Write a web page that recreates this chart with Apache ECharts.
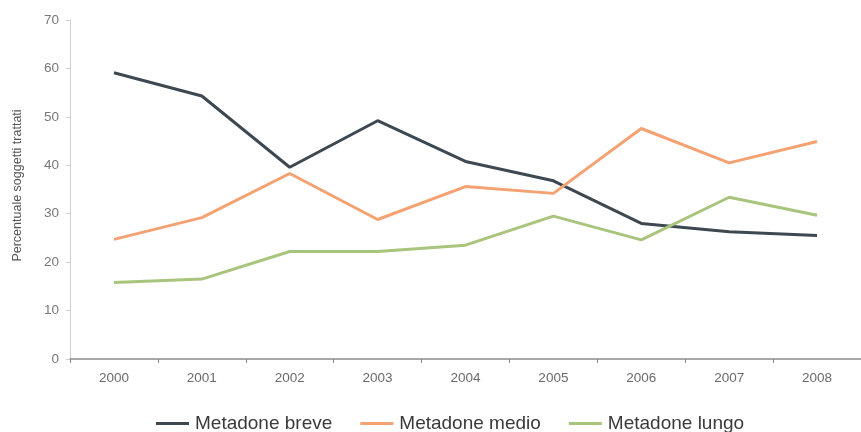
<!DOCTYPE html>
<html><head><meta charset="utf-8">
<script src="https://cdn.jsdelivr.net/npm/echarts@6/dist/echarts.min.js"></script>
<style>html,body{margin:0;padding:0;background:#fff}#c{width:861px;height:432px}</style>
</head><body><div id="c"></div>
<script>
const years = ['2000','2001','2002','2003','2004','2005','2006','2007','2008'];
const breve = [59.1, 54.3, 39.6, 49.2, 40.8, 36.8, 28.0, 26.3, 25.5];
const medio = [24.7, 29.2, 38.3, 28.8, 35.6, 34.2, 47.6, 40.5, 44.9];
const lungo = [15.8, 16.5, 22.2, 22.2, 23.5, 29.5, 24.6, 33.4, 29.7];
const yTitle = 'Percentuale soggetti trattati';

const chart = echarts.init(document.getElementById('c'), null, {renderer:'canvas'});
const font = 'Liberation Sans, Arial, sans-serif';
function s(name, data, color){
  return {name, type:'line', data, symbol:'none', smooth:false,
    lineStyle:{color, width:3}, itemStyle:{color}};
}
chart.setOption({
  animation:false,
  backgroundColor:'#ffffff',
  textStyle:{fontFamily:font},
  grid:{left:70, right:-5, top:20, bottom:73},
  legend:{left:151, top:409, icon:'rect', itemWidth:33, itemHeight:3, itemGap:28,
    textStyle:{fontSize:19, color:'#3a3a3a', fontFamily:font, padding:[0,0,0,1]},
    data:['Metadone breve','Metadone medio','Metadone lungo']},
  xAxis:{type:'category', data:years, boundaryGap:true,
    axisLine:{lineStyle:{color:'#8a8a8a', width:1.5}},
    axisTick:{show:true, length:4, lineStyle:{color:'#8a8a8a'}},
    axisLabel:{color:'#6a6a6a', fontSize:13.5, margin:12, fontFamily:font}},
  yAxis:{type:'value', min:0, max:70, interval:10,
    name:yTitle, nameLocation:'middle', nameGap:46, nameRotate:90,
    nameTextStyle:{color:'#555', fontSize:12.5, fontFamily:font, padding:[0,0,0,8]},
    axisLine:{show:true, lineStyle:{color:'#cfcfcf'}},
    axisTick:{show:true, length:4, lineStyle:{color:'#cfcfcf'}},
    splitLine:{show:false},
    axisLabel:{color:'#777', fontSize:13.5, margin:11, fontFamily:font}},
  series:[s('Metadone breve', breve, '#3d4850'), s('Metadone medio', medio, '#f4a272'), s('Metadone lungo', lungo, '#a9c47c')]
});
</script></body></html>
